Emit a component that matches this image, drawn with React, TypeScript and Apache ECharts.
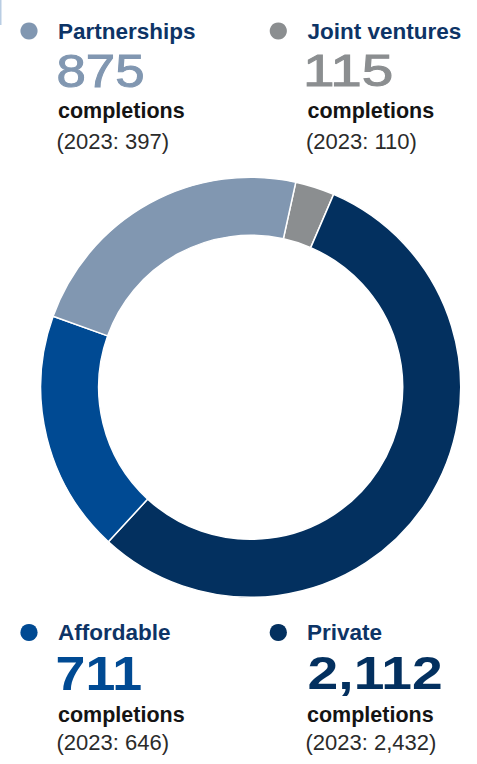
import React, { useEffect, useRef } from "react";
import * as echarts from "echarts";

// ---- data (clockwise from the top of the ring) ----
const categories = ["Joint ventures", "Private", "Affordable", "Partnerships"];
const completions2024 = [115, 2112, 711, 875];
const completions2023 = [110, 2432, 646, 397];
const sliceColors = ["#8b8e90", "#03305f", "#004a93", "#8197b1"];
const unitLabel = "completions";
const priorYear = "2023";

// ---- layout of the four text blocks (same order as categories) ----
const blockLayout = [
  { textX: 307.5, numX: 303, dotX: 278.3, top: true, numScale: 1.26, numWeight: "normal", numSize: 45, thicken: 1.0 },
  { textX: 307, numX: 307.6, dotX: 278.3, top: false, numScale: 1.2, numWeight: "bold", numSize: 46, thicken: 0 },
  { textX: 58, numX: 55.5, dotX: 29, top: false, numScale: 1.12, numWeight: "bold", numSize: 48, thicken: 0 },
  { textX: 58, numX: 56.5, dotX: 29, top: true, numScale: 1.16, numWeight: "normal", numSize: 45.5, thicken: 1.0 },
];
const rowsTop = { title: 31, num: 70.8, unit: 111, prior: 141.5 };
const rowsBottom = { title: 632.5, num: 673.5, unit: 714.5, prior: 742.5 };

const FONT = '"Liberation Sans", Arial, Helvetica, sans-serif';
const TITLE_COLOR = "#0d3466";

const fmt = (v: number) => v.toLocaleString("en-GB");

export default function App() {
  const ref = useRef<HTMLDivElement>(null);
  useEffect(() => {
    document.body.style.margin = "0";
    if (!ref.current) return;
    const chart = echarts.init(ref.current, undefined, { renderer: "svg" });

    const graphics: any[] = [
      { type: "rect", shape: { x: 0, y: 0, width: 1.5, height: 25 }, style: { fill: "#b9cde3" } },
    ];
    categories.forEach((name, i) => {
      const L = blockLayout[i];
      const R = L.top ? rowsTop : rowsBottom;
      graphics.push({
        type: "circle",
        shape: { cx: L.dotX, cy: R.title, r: 8.6 },
        style: { fill: sliceColors[i] },
      });
      graphics.push({
        type: "text",
        x: L.textX,
        y: R.title,
        style: { text: name, font: `bold 22.5px ${FONT}`, fill: TITLE_COLOR, verticalAlign: "middle", align: "left" },
      });
      const numStyle: any = {
        text: fmt(completions2024[i]),
        font: `${L.numWeight} ${L.numSize}px ${FONT}`,
        fill: sliceColors[i],
        verticalAlign: "middle",
        align: "left",
      };
      if (L.thicken > 0) {
        numStyle.stroke = sliceColors[i];
        numStyle.lineWidth = L.thicken;
      }
      graphics.push({ type: "text", x: L.numX, y: R.num, scaleX: L.numScale, style: numStyle });
      graphics.push({
        type: "text",
        x: L.textX,
        y: R.unit,
        style: { text: unitLabel, font: `bold 21.5px ${FONT}`, fill: "#141414", verticalAlign: "middle", align: "left" },
      });
      graphics.push({
        type: "text",
        x: L.textX - 1.5,
        y: R.prior,
        style: {
          text: `(${priorYear}: ${fmt(completions2023[i])})`,
          font: `normal 22px ${FONT}`,
          fill: "#2b2b2b",
          verticalAlign: "middle",
          align: "left",
        },
      });
    });

    chart.setOption({
      animation: false,
      backgroundColor: "#ffffff",
      graphic: graphics,
      series: [
        {
          type: "pie",
          radius: [152, 210],
          center: [250.7, 387.3],
          startAngle: 77.6,
          clockwise: true,
          label: { show: false },
          labelLine: { show: false },
          emphasis: { disabled: true },
          itemStyle: { borderColor: "#ffffff", borderWidth: 1.5 },
          data: categories.map((name, i) => ({
            name,
            value: completions2024[i],
            itemStyle: { color: sliceColors[i] },
          })),
        },
      ],
    });
    return () => chart.dispose();
  }, []);
  return <div ref={ref} style={{ position: "absolute", left: 0, top: 0, width: 477, height: 764 }} />;
}
